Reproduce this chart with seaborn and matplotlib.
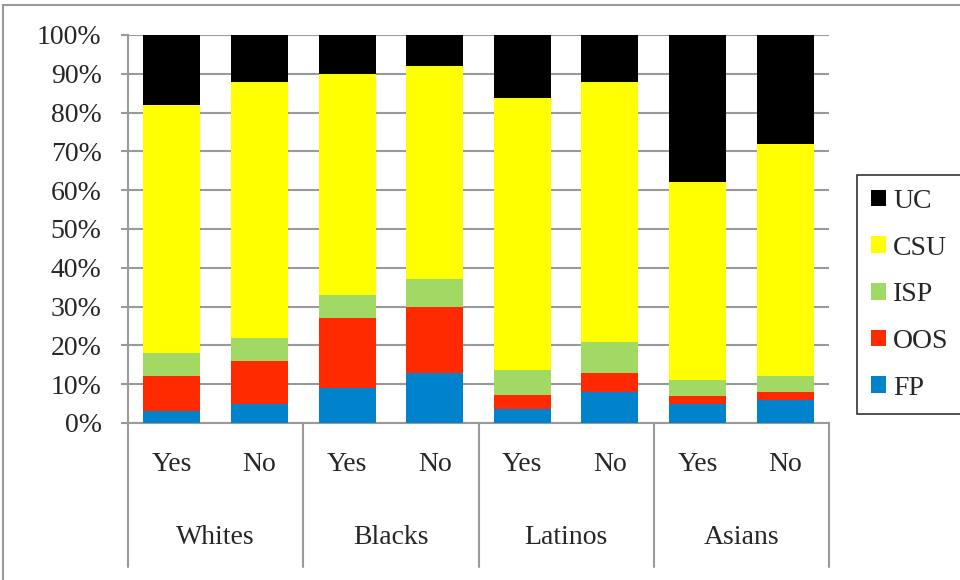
import matplotlib
matplotlib.use("Agg")
import matplotlib.pyplot as plt
import matplotlib.transforms as mtransforms
from matplotlib.patches import Rectangle, Patch
import seaborn as sns
import pandas as pd
import numpy as np

# data (percent of each bar)
groups = ["Whites", "Blacks", "Latinos", "Asians"]
answers = ["Yes", "No"]
series = ["FP", "OOS", "ISP", "CSU", "UC"]
fp = [3, 5, 9, 13, 3.7, 8, 5, 6]
oos = [9, 11, 18, 17, 3.6, 5, 2, 2]
isp = [6, 6, 6, 7, 6.4, 8, 4, 4]
csu = [64, 66, 57, 55, 70.1, 67, 51, 60]
uc = [18, 12, 10, 8, 16.2, 12, 38, 28]
colors = {"FP": "#0083CC", "OOS": "#FF2A00", "ISP": "#A2D864",
          "CSU": "#FFFF00", "UC": "#000000"}

bars = [f"{g} {a}" for g in groups for a in answers]
df = pd.DataFrame({"bar": bars, "FP": fp, "OOS": oos, "ISP": isp,
                   "CSU": csu, "UC": uc})
cum = df[series].cumsum(axis=1)
cum["bar"] = df["bar"]

sns.set_style("white")
plt.rcParams["font.family"] = ["Liberation Serif", "DejaVu Serif"]
fs = 20
plt.rcParams["font.size"] = fs

fig = plt.figure(figsize=(9.6, 5.8), dpi=100)
ax = fig.add_axes([128 / 960, 1 - 423 / 580, 701 / 960, 388 / 580])

# stacked bars: draw cumulative totals, tallest first
for s in reversed(series):
    sns.barplot(data=cum, x="bar", y=s, order=bars, color=colors[s],
                width=0.65, ax=ax, zorder=3, saturation=1,
                edgecolor="none", linewidth=0)

ax.set_xlim(-0.5, len(bars) - 0.5)
ax.set_ylim(0, 100)
ax.set_yticks(np.arange(0, 101, 10))
ax.set_yticklabels([f"{v}%" for v in range(0, 101, 10)])
ax.yaxis.grid(True, color="#9a9a9a", linewidth=1.5, zorder=0)
ax.set_axisbelow(True)
ax.set_xlabel("")
ax.set_ylabel("")
ax.set_xticks([])
for sp in ["top", "right"]:
    ax.spines[sp].set_visible(False)
ax.spines["left"].set_color("#9a9a9a")
ax.spines["left"].set_linewidth(1.5)
ax.spines["bottom"].set_color("#9a9a9a")
ax.spines["bottom"].set_linewidth(1.5)
ax.tick_params(axis="y", length=5, width=1.5, color="#9a9a9a", pad=14,
               labelsize=fs, left=True)

# two-level category axis
trans = mtransforms.blended_transform_factory(ax.transData, ax.transAxes)
for i, b in enumerate(bars):
    ax.text(i, -0.108, b.split()[1], transform=trans, ha="center",
            va="center", fontsize=fs)
for j, g in enumerate(groups):
    ax.text(2 * j + 0.5, -0.294, g, transform=trans, ha="center",
            va="center", fontsize=fs)
for xs in np.arange(-0.5, len(bars), 2):
    ax.plot([xs, xs], [0, -0.371], transform=trans, color="#9a9a9a",
            linewidth=1.5, clip_on=False)

# legend
handles = [Patch(facecolor=colors[s], edgecolor="none", label=s)
           for s in reversed(series)]
leg = fig.legend(handles=handles, loc="upper left",
                 bbox_to_anchor=(857 / 960, 1 - 175 / 580),
                 frameon=True, fontsize=fs, handlelength=0.55,
                 handleheight=0.55, handletextpad=0.25, labelspacing=0.78,
                 borderpad=0.5, borderaxespad=0, fancybox=False)
leg.get_frame().set_edgecolor("black")
leg.get_frame().set_linewidth(1.2)

# outer chart-area border (partly cropped)
fig.patches.append(Rectangle((3 / 960, -0.1), 1.2, 1 - 5 / 580 + 0.1,
                             transform=fig.transFigure, fill=False,
                             edgecolor="#9a9a9a", linewidth=1.5))

fig.savefig("out.png", dpi=100)
